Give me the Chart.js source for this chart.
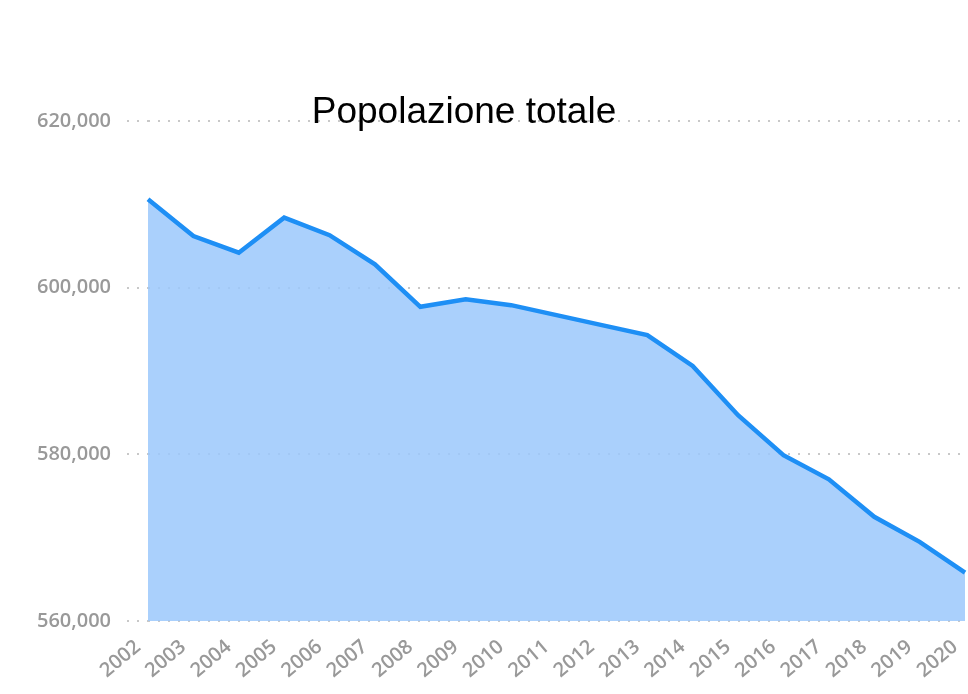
<!DOCTYPE html>
<html>
<head>
<meta charset="utf-8">
<script src="https://cdn.jsdelivr.net/npm/chart.js@4"></script>
<style>
  html, body { margin: 0; padding: 0; background: #fff; }
  #wrap { position: relative; width: 968px; height: 694px; }
  #title { position: absolute; left: 0; width: 928px; top: 91px; text-align: center;
           font-family: "Liberation Sans", Arial, sans-serif; font-size: 37px; color: #000;
           line-height: 40px; }
</style>
</head>
<body>
<div id="wrap">
  <canvas id="c" width="968" height="694"></canvas>
  <div id="title">Popolazione totale</div>
</div>
<script>
const years = ["2002","2003","2004","2005","2006","2007","2008","2009","2010","2011",
               "2012","2013","2014","2015","2016","2017","2018","2019","2020"];
const population = [610600, 606200, 604200, 608400, 606300, 602800, 597700, 598600, 597900, 596700,
                    595500, 594300, 590600, 584700, 579900, 577000, 572500, 569500, 565800];
const yTicks = [560000, 580000, 600000, 620000];

new Chart(document.getElementById('c'), {
  type: 'line',
  data: {
    labels: years,
    datasets: [{
      data: population,
      borderColor: '#1e8ff5',
      borderWidth: 4.5,
      backgroundColor: 'rgba(155,200,251,0.85)',
      fill: 'start',
      pointRadius: 0,
      tension: 0
    }]
  },
  options: {
    responsive: false,
    animation: false,
    layout: { padding: { top: 121, right: 3, bottom: 0, left: 0 } },
    plugins: { legend: { display: false }, tooltip: { enabled: false }, title: { display: false } },
    scales: {
      x: {
        grid: { display: false },
        border: { display: false },
        ticks: {
          color: '#999999',
          font: { family: '"Open Sans", sans-serif', size: 20, weight: '600' },
          minRotation: 40, maxRotation: 40,
          padding: 6,
          labelOffset: -10,
          autoSkip: false
        },
        afterFit: s => { s.height = 73; s.paddingLeft = 0; s.paddingRight = 0; }
      },
      y: {
        min: 560000, max: 620000,
        afterBuildTicks: s => { s.ticks = yTicks.map(v => ({ value: v })); },
        border: { display: false, dash: [2, 8] },
        grid: { color: '#c8c8c8', lineWidth: 2, tickLength: 21, tickColor: '#c8c8c8',
                tickWidth: 2, tickBorderDash: [2, 8] },
        ticks: {
          color: '#999999',
          font: { family: '"Open Sans", sans-serif', size: 20, weight: '600' },
          padding: 16,
          callback: v => v.toLocaleString('en-US')
        },
        afterFit: s => { s.width = 148; s.paddingTop = 0; s.paddingBottom = 0; }
      }
    }
  }
});
</script>
</body>
</html>
